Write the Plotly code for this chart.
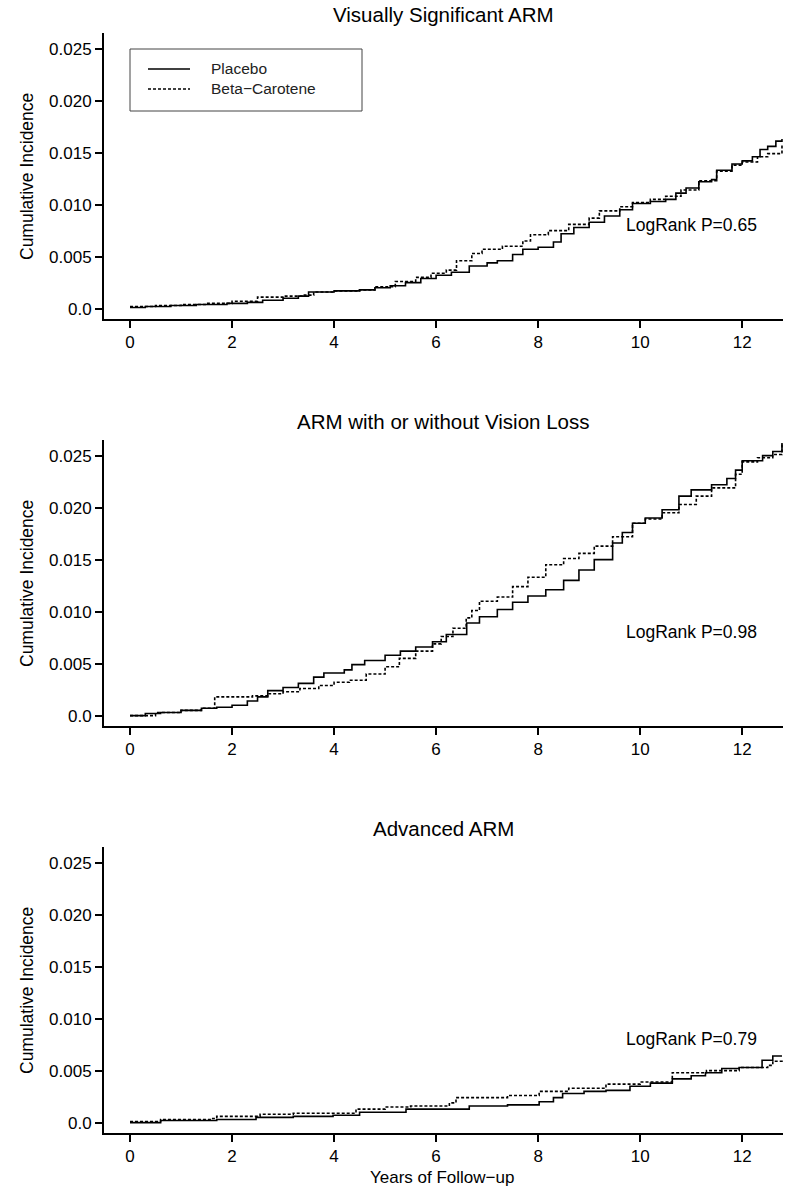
import plotly.graph_objects as go

# ---------------- DATA ----------------
panel_titles = ["Visually Significant ARM", "ARM with or without Vision Loss", "Advanced ARM"]
pvalue_labels = ["LogRank P=0.65", "LogRank P=0.98", "LogRank P=0.79"]
series_names = ["Placebo", "Beta\u2212Carotene"]

x_tick_vals = [0, 2, 4, 6, 8, 10, 12]
y_tick_vals = [0.0, 0.005, 0.010, 0.015, 0.020, 0.025]
y_tick_text = ["0.0", "0.005", "0.010", "0.015", "0.020", "0.025"]

# Panel 1: Visually Significant ARM
p1_placebo_t = [0.0, 0.3, 0.8, 1.3, 1.9, 2.3, 2.6, 3.0, 3.3, 3.5, 4.0, 4.5, 4.8, 5.1, 5.4, 5.7, 6.0, 6.3,
                6.65, 7.0, 7.2, 7.5, 7.7, 8.0, 8.3, 8.45, 8.7, 9.0, 9.3, 9.6, 9.85, 10.2, 10.5, 10.7, 10.9,
                11.15, 11.4, 11.5, 11.8, 12.0, 12.2, 12.35, 12.5, 12.66, 12.78]
p1_placebo_v = [0.0001, 0.0002, 0.0003, 0.0004, 0.0005, 0.0006, 0.0008, 0.0010, 0.0012, 0.0016, 0.0017,
                0.0018, 0.0020, 0.0022, 0.0025, 0.0029, 0.0032, 0.0035, 0.0041, 0.0044, 0.0046, 0.0052,
                0.0057, 0.0059, 0.0064, 0.0072, 0.0078, 0.0083, 0.0089, 0.0095, 0.0101, 0.0103, 0.0105,
                0.0111, 0.0116, 0.0122, 0.0124, 0.0133, 0.0139, 0.0142, 0.0146, 0.0153, 0.0156, 0.0161,
                0.0163]
p1_beta_t = [0.0, 0.5, 1.0, 1.5, 2.0, 2.5, 3.0, 3.4, 3.6, 4.0, 4.5, 4.8, 5.2, 5.6, 5.9, 6.2, 6.4, 6.7,
             6.9, 7.3, 7.7, 7.85, 8.2, 8.6, 9.0, 9.2, 9.6, 9.85, 10.2, 10.5, 10.8, 11.15, 11.5, 11.8,
             12.0, 12.3, 12.5, 12.78]
p1_beta_v = [0.0002, 0.0003, 0.0004, 0.0005, 0.0007, 0.0011, 0.0012, 0.0013, 0.0016, 0.0017, 0.0018,
             0.0021, 0.0026, 0.0030, 0.0034, 0.0037, 0.0046, 0.0053, 0.0057, 0.0060, 0.0065, 0.0071,
             0.0075, 0.0081, 0.0087, 0.0094, 0.0098, 0.0102, 0.0105, 0.0108, 0.0114, 0.0123, 0.0132,
             0.0138, 0.0141, 0.0146, 0.0149, 0.0157]

# Panel 2: ARM with or without Vision Loss
p2_placebo_t = [0.0, 0.3, 0.6, 1.0, 1.4, 1.7, 2.0, 2.3, 2.5, 2.7, 3.0, 3.3, 3.6, 3.8, 4.2, 4.35, 4.6,
                5.0, 5.3, 5.6, 5.93, 6.2, 6.6, 6.85, 7.2, 7.5, 7.8, 8.15, 8.5, 8.8, 9.1, 9.46, 9.65,
                9.85, 10.1, 10.43, 10.76, 11.0, 11.4, 11.7, 11.87, 12.0, 12.4, 12.6, 12.78]
p2_placebo_v = [0.0000, 0.0002, 0.0003, 0.0005, 0.0007, 0.0008, 0.0010, 0.0014, 0.0018, 0.0024, 0.0027,
                0.0031, 0.0037, 0.0041, 0.0044, 0.0049, 0.0053, 0.0058, 0.0062, 0.0066, 0.0071, 0.0078,
                0.0089, 0.0095, 0.0102, 0.0109, 0.0115, 0.0121, 0.0130, 0.0140, 0.0150, 0.0166, 0.0176,
                0.0185, 0.0190, 0.0198, 0.0211, 0.0217, 0.0222, 0.0228, 0.0236, 0.0245, 0.0250, 0.0254,
                0.0262]
p2_beta_t = [0.0, 0.5, 1.0, 1.4, 1.66, 2.4, 2.7, 3.0, 3.33, 3.7, 4.0, 4.3, 4.63, 5.0, 5.28, 5.6, 5.93,
             6.1, 6.33, 6.59, 6.7, 6.85, 7.2, 7.5, 7.8, 8.15, 8.5, 8.8, 9.1, 9.46, 9.85, 10.1, 10.43,
             10.76, 11.1, 11.4, 11.87, 12.0, 12.3, 12.6, 12.78]
p2_beta_v = [0.0000, 0.0003, 0.0005, 0.0007, 0.0018, 0.0019, 0.0021, 0.0023, 0.0026, 0.0029, 0.0032,
             0.0034, 0.0040, 0.0047, 0.0055, 0.0062, 0.0069, 0.0076, 0.0084, 0.0094, 0.0101, 0.0110,
             0.0114, 0.0124, 0.0133, 0.0145, 0.0151, 0.0156, 0.0163, 0.0172, 0.0185, 0.0189, 0.0195,
             0.0203, 0.0211, 0.0219, 0.0232, 0.0244, 0.0248, 0.0251, 0.0262]

# Panel 3: Advanced ARM
p3_placebo_t = [0.0, 0.6, 1.7, 2.47, 3.2, 3.98, 4.5, 5.41, 6.65, 7.4, 8.02, 8.3, 8.48, 8.9, 9.33, 9.8,
                10.2, 10.63, 11.0, 11.28, 11.6, 11.94, 12.39, 12.6, 12.78]
p3_placebo_v = [0.0000, 0.0002, 0.0003, 0.0005, 0.0006, 0.0007, 0.0010, 0.0013, 0.0016, 0.0017, 0.0020,
                0.0024, 0.0028, 0.0030, 0.0031, 0.0035, 0.0038, 0.0042, 0.0045, 0.0048, 0.0052, 0.0053,
                0.0060, 0.0064, 0.0064]
p3_beta_t = [0.0, 0.6, 1.57, 1.7, 2.55, 3.2, 4.43, 5.0, 5.5, 6.26, 6.39, 7.4, 8.02, 8.6, 9.33, 10.0,
             10.63, 11.3, 11.94, 12.5, 12.6, 12.78]
p3_beta_v = [0.0001, 0.0003, 0.0004, 0.0006, 0.0008, 0.0009, 0.0013, 0.0015, 0.0016, 0.0019, 0.0024,
             0.0026, 0.0030, 0.0033, 0.0037, 0.0039, 0.0048, 0.0050, 0.0053, 0.0055, 0.0059, 0.0061]

panels = [
    (p1_placebo_t, p1_placebo_v, p1_beta_t, p1_beta_v),
    (p2_placebo_t, p2_placebo_v, p2_beta_t, p2_beta_v),
    (p3_placebo_t, p3_placebo_v, p3_beta_t, p3_beta_v),
]

# ---------------- LAYOUT ----------------
W, H = 800, 1194
FONT = "Liberation Sans, Arial, Helvetica, sans-serif"


def px_x(x):
    return x / W


def px_y(y):
    return 1 - y / H


# plot-area pixel boxes (top, bottom) for each panel, in window pixels
panel_px = [(33, 319), (440, 726), (847, 1133)]
title_px = [15, 421, 828]
x_left_px, x_right_px = 104, 783

fig = go.Figure()
layout = dict(
    width=W, height=H,
    margin=dict(l=0, r=0, t=0, b=0),
    paper_bgcolor="white", plot_bgcolor="white",
    showlegend=False,
    font=dict(family=FONT, color="black", size=17),
)

annotations = []
shapes = []
for i, (pt, pv, bt, bv) in enumerate(panels):
    n = "" if i == 0 else str(i + 1)
    xa, ya = "x" + n, "y" + n
    fig.add_trace(go.Scatter(x=pt, y=pv, mode="lines", line_shape="hv", name=series_names[0],
                             line=dict(color="black", width=1.6), xaxis=xa, yaxis=ya,
                             showlegend=(i == 0)))
    fig.add_trace(go.Scatter(x=bt, y=bv, mode="lines", line_shape="hv", name=series_names[1],
                             line=dict(color="black", width=1.6, dash="3px,2px"), xaxis=xa, yaxis=ya,
                             showlegend=(i == 0)))
    top, bot = panel_px[i]
    layout["xaxis" + n] = dict(
        domain=[px_x(x_left_px), px_x(x_right_px)], anchor=ya, range=[-0.51, 12.80],
        tickvals=x_tick_vals, ticktext=[str(v) for v in x_tick_vals],
        showline=True, linecolor="black", linewidth=2, ticks="outside", ticklen=7,
        tickwidth=1.5, tickcolor="black", showgrid=False, zeroline=False, automargin=False,
        tickfont=dict(size=17, family=FONT, color="black"),
    )
    layout["yaxis" + n] = dict(
        domain=[px_y(bot), px_y(top)], anchor=xa, range=[-0.001, 0.0265],
        tickvals=y_tick_vals, ticktext=y_tick_text,
        showline=True, linecolor="black", linewidth=2, ticks="outside", ticklen=7,
        tickwidth=1.5, tickcolor="black", showgrid=False, zeroline=False, automargin=False,
        tickfont=dict(size=17, family=FONT, color="black"),
    )
    # panel title
    annotations.append(dict(text=panel_titles[i], xref="paper", yref="paper",
                            x=px_x((x_left_px + x_right_px) / 2), y=px_y(title_px[i]),
                            xanchor="center", yanchor="middle", showarrow=False,
                            font=dict(size=20.5, family=FONT, color="black")))
    # y axis title
    annotations.append(dict(text="Cumulative Incidence", xref="paper", yref="paper",
                            x=px_x(27), y=px_y((top + bot) / 2 + 1), textangle=-90,
                            xanchor="center", yanchor="middle", showarrow=False,
                            font=dict(size=17.5, family=FONT, color="black")))
    # log rank text
    annotations.append(dict(text=pvalue_labels[i], xref=xa, yref=ya, x=9.69, y=0.0080,
                            xanchor="left", yanchor="middle", showarrow=False,
                            font=dict(size=17.5, family=FONT, color="black")))

# x axis title (bottom panel)
annotations.append(dict(text="Years of Follow\u2212up", xref="paper", yref="paper",
                        x=px_x(442), y=px_y(1177), xanchor="center", yanchor="middle",
                        showarrow=False, font=dict(size=17, family=FONT, color="black")))

# legend (top panel), drawn as box + sample lines + labels
shapes.append(dict(type="rect", xref="paper", yref="paper",
                   x0=px_x(130), x1=px_x(362), y0=px_y(111), y1=px_y(49),
                   line=dict(color="#444444", width=1), fillcolor="white", layer="below"))
shapes.append(dict(type="line", xref="paper", yref="paper",
                   x0=px_x(148), x1=px_x(190), y0=px_y(69), y1=px_y(69),
                   line=dict(color="black", width=1.6)))
shapes.append(dict(type="line", xref="paper", yref="paper",
                   x0=px_x(148), x1=px_x(190), y0=px_y(89), y1=px_y(89),
                   line=dict(color="black", width=1.6, dash="3px,2px")))
for name, yy in zip(series_names, [69, 89]):
    annotations.append(dict(text=name, xref="paper", yref="paper", x=px_x(209), y=px_y(yy),
                            xanchor="left", yanchor="middle", showarrow=False,
                            font=dict(size=15.5, family=FONT, color="#222222")))

layout["annotations"] = annotations
layout["shapes"] = shapes
fig.update_layout(**layout)

# remove the browser's default 8px page margin so the figure fills the window exactly
fig.write_html("out.html", config={"displayModeBar": False},
               post_script="document.body.style.margin='0';")
